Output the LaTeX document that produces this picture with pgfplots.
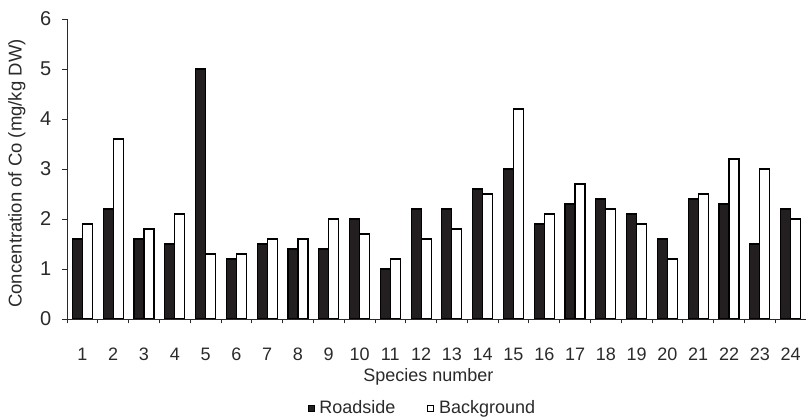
\documentclass[border=0pt]{standalone}
\usepackage{fontspec}
\setmainfont{Liberation Sans}
\usepackage{pgfplots}
\pgfplotsset{compat=1.18}

% species, roadside, background
\pgfplotstableread{
sp road back
1  1.6 1.9
2  2.2 3.6
3  1.6 1.8
4  1.5 2.1
5  5.0 1.3
6  1.2 1.3
7  1.5 1.6
8  1.4 1.6
9  1.4 2.0
10 2.0 1.7
11 1.0 1.2
12 2.2 1.6
13 2.2 1.8
14 2.6 2.5
15 3.0 4.2
16 1.9 2.1
17 2.3 2.7
18 2.4 2.2
19 2.1 1.9
20 1.6 1.2
21 2.4 2.5
22 2.3 3.2
23 1.5 3.0
24 2.2 2.0
}\cotable

\definecolor{barblk}{HTML}{231F20}
\definecolor{txt}{HTML}{2A2A2A}

\begin{document}
\fontsize{18}{22}\selectfont
\begin{tikzpicture}
\begin{axis}[
    at={(0pt,0pt)}, anchor=south west,
    scale only axis,
    width=739pt, height=300pt,
    ybar=0pt, bar width=10pt,
    xmin=0.5, xmax=24.5,
    ymin=0, ymax=6,
    ytick={0,...,6},
    xtick={1,...,24},
    minor xtick={0.5,1.5,...,24.5},
    major x tick style={draw=none},
    minor tick length=4.5pt,
    major tick length=4.5pt,
    tick align=outside,
    axis x line*=bottom, axis y line*=left,
    axis line style={line width=0.8pt, draw=txt},
    every tick/.style={line width=0.8pt, draw=txt},
    minor x tick style={line width=0.8pt, draw=txt},
    /pgf/number format/assume math mode=true,
    tick label style={font=\fontsize{18}{22}\selectfont, text=txt},
    xticklabel style={anchor=north, yshift=-18pt},
    yticklabel style={font=\fontsize{20}{24}\selectfont, xshift=-5pt},
    xlabel={Species number},
    ylabel={Concentration of Co (mg/kg DW)},
    label style={font=\fontsize{18}{22}\selectfont, text=txt},
    xlabel style={at={(axis description cs:0.489,-0.193)}, anchor=center},
    ylabel style={at={(axis description cs:-0.0677,0.485)}, anchor=center,
        font=\fontsize{18.5}{22}\selectfont},
    legend columns=2,
    legend style={draw=none, fill=none, at={(axis description cs:0.481,-0.297)},
        anchor=center, font=\fontsize{18}{22}\selectfont, text=txt,
        /tikz/every odd column/.append style={column sep=3pt},
        /tikz/every even column/.append style={column sep=30pt}},
    legend image code/.code={\draw[#1, line width=0.7pt] (0pt,-3pt) rectangle (6pt,3pt);},
]
\addplot[fill=barblk, draw=black, line width=1.2pt] table[x=sp, y=road] {\cotable};
\addplot[fill=white, draw=black, line width=1.2pt] table[x=sp, y=back] {\cotable};
\legend{Roadside, Background}
\end{axis}
\pgfresetboundingbox
\path (-67pt,-100pt) rectangle (739pt,319pt);
\end{tikzpicture}
\end{document}
